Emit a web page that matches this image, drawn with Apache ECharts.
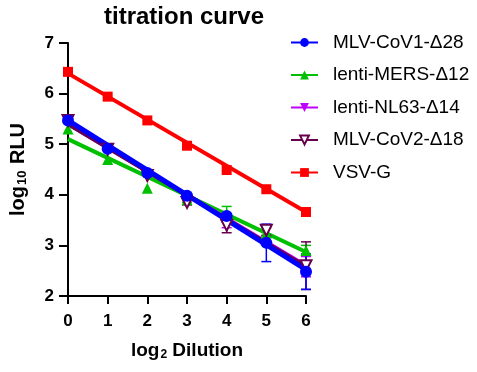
<!DOCTYPE html>
<html>
<head>
<meta charset="utf-8">
<script src="https://cdn.jsdelivr.net/npm/echarts@6/dist/echarts.min.js"></script>
<style>
html,body{margin:0;padding:0;background:#fff;}
#c{width:477px;height:372px;}
</style>
</head>
<body>
<div id="c"></div>
<script>
// x values (log2 dilution)
var dilutions = [0, 1, 2, 3, 4, 5, 6];
var fitX = [0, 6];

// measured points (log10 RLU)
var cov1 = [5.47, 4.91, 4.43, 3.98, 3.58, 3.05, 2.48];
var mers = [5.30, 4.70, 4.13, 3.90, 3.62, 3.25, 2.90];
var nl63 = [5.45, 4.88, 4.40, 3.90, 3.45, 3.28, 2.58];
var cov2 = [5.47, 4.90, 4.38, 3.85, 3.40, 3.30, 2.60];
var vsv  = [6.43, 5.94, 5.47, 4.97, 4.49, 4.11, 3.66];

// error (SD)
var cov1Err = [0, 0, 0, 0, 0.05, 0.37, 0.35];
var mersErr = [0, 0, 0, 0.05, 0.15, 0.10, 0.10];
var nl63Err = [0, 0, 0, 0, 0.10, 0.10, 0.20];
var cov2Err = [0, 0, 0, 0.05, 0.15, 0.10, 0.47];
var vsvErr  = [0, 0, 0, 0, 0, 0, 0];

// regression lines, values at x = 0 and x = 6
var cov1Fit = [5.47, 2.52];
var mersFit = [5.10, 2.87];
var nl63Fit = [5.40, 2.60];
var cov2Fit = [5.40, 2.58];
var vsvFit  = [6.40, 3.66];

var names = ['MLV-CoV1-Δ28', 'lenti-MERS-Δ12', 'lenti-NL63-Δ14', 'MLV-CoV2-Δ18', 'VSV-G'];
var xTicks = [0, 1, 2, 3, 4, 5, 6];
var yTicks = [2, 3, 4, 5, 6, 7];

var FONT = 'Arial, "Liberation Sans", sans-serif';

var sets = [
  {name: names[1], pts: mers, err: mersErr, fit: mersFit, color: '#00C000', symbol: 'triangle', rotate: 0, size: 11},
  {name: names[2], pts: nl63, err: nl63Err, fit: nl63Fit, color: '#C000FF', symbol: 'triangle', rotate: 180, size: 11},
  {name: names[3], pts: cov2, err: cov2Err, fit: cov2Fit, color: '#66004D', symbol: 'emptyTriangle', rotate: 180, size: 11},
  {name: names[0], pts: cov1, err: cov1Err, fit: cov1Fit, color: '#0000FF', symbol: 'circle', rotate: 0, size: 12},
  {name: names[4], pts: vsv,  err: vsvErr,  fit: vsvFit,  color: '#FF0000', symbol: 'rect', rotate: 0, size: 10}
];

function pairs(xs, ys) { return xs.map(function (x, i) { return [x, ys[i]]; }); }

var series = [];
sets.forEach(function (s) {
  series.push({
    name: s.name, type: 'line', data: pairs(fitX, s.fit),
    symbol: s.symbol, symbolRotate: s.rotate, showSymbol: false,
    lineStyle: {color: s.color, width: s.name === names[0] ? 5 : 4},
    itemStyle: {color: s.color}, silent: true, z: 2
  });
});
sets.forEach(function (s) {
  series.push({
    name: s.name, type: 'custom', z: 3,
    data: dilutions.map(function (x, i) { return [x, s.pts[i] - s.err[i], s.pts[i] + s.err[i]]; }).filter(function (d, i) { return s.err[i] > 0; }),
    renderItem: function (params, api) {
      var lo = api.coord([api.value(0), api.value(1)]);
      var hi = api.coord([api.value(0), api.value(2)]);
      var w = 5;
      var st = {stroke: s.color, lineWidth: 1.5, fill: 'none'};
      return {type: 'group', children: [
        {type: 'line', shape: {x1: lo[0], y1: lo[1], x2: hi[0], y2: hi[1]}, style: st},
        {type: 'line', shape: {x1: lo[0] - w, y1: lo[1], x2: lo[0] + w, y2: lo[1]}, style: st},
        {type: 'line', shape: {x1: hi[0] - w, y1: hi[1], x2: hi[0] + w, y2: hi[1]}, style: st}
      ]};
    }
  });
});
sets.forEach(function (s) {
  series.push({
    name: s.name, type: 'scatter', data: pairs(dilutions, s.pts),
    symbol: s.symbol, symbolRotate: s.rotate, symbolSize: s.size,
    itemStyle: {color: s.color, borderColor: s.color, borderWidth: s.symbol === 'emptyTriangle' ? 2 : 0, opacity: 1},
    z: 4
  });
});

var chart = echarts.init(document.getElementById('c'), null, {renderer: 'canvas'});
chart.setOption({
  animation: false,
  backgroundColor: '#fff',
  title: {
    text: 'titration curve', left: 104, top: 5, padding: 0,
    textStyle: {fontFamily: FONT, fontSize: 24, fontWeight: 'bold', color: '#000'}
  },
  legend: {
    data: names, orient: 'vertical', left: 290, top: 33, padding: 0,
    itemWidth: 27, itemHeight: 11, itemGap: 13.5,
    textStyle: {fontFamily: FONT, fontSize: 19, color: '#000', padding: [0, 0, 0, 10]}
  },
  grid: {left: 63, right: 171, top: 43, bottom: 76, containLabel: false},
  xAxis: {
    type: 'value', min: 0, max: 6, interval: 1,
    name: '{b|log}{s|2}{b| Dilution}', nameLocation: 'middle', nameGap: 44,
    nameTextStyle: {rich: {
      b: {fontFamily: FONT, fontSize: 19, fontWeight: 'bold', color: '#000'},
      s: {fontFamily: FONT, fontSize: 12, fontWeight: 'bold', color: '#000', padding: [9, 0, 0, 1]}
    }},
    axisLine: {lineStyle: {color: '#000', width: 2}},
    axisTick: {length: 8, lineStyle: {color: '#000', width: 2}},
    axisLabel: {fontFamily: FONT, fontSize: 17, fontWeight: 'bold', color: '#000', margin: 17,
      formatter: function (v) { return xTicks.indexOf(v) >= 0 ? String(v) : ''; }},
    splitLine: {show: false}
  },
  yAxis: {
    type: 'value', min: 2, max: 7, interval: 1,
    name: '{b|log}{s|10}{b| RLU}', nameLocation: 'middle', nameGap: 39,
    nameTextStyle: {rich: {
      b: {fontFamily: FONT, fontSize: 20, fontWeight: 'bold', color: '#000'},
      s: {fontFamily: FONT, fontSize: 13, fontWeight: 'bold', color: '#000', padding: [9, 1, 0, 1]}
    }},
    axisLine: {show: true, lineStyle: {color: '#000', width: 2}},
    axisTick: {show: true, length: 9, lineStyle: {color: '#000', width: 2}},
    axisLabel: {fontFamily: FONT, fontSize: 17, fontWeight: 'bold', color: '#000', margin: 14,
      formatter: function (v) { return yTicks.indexOf(v) >= 0 ? String(v) : ''; }},
    splitLine: {show: false}
  },
  series: series
});
</script>
</body>
</html>
